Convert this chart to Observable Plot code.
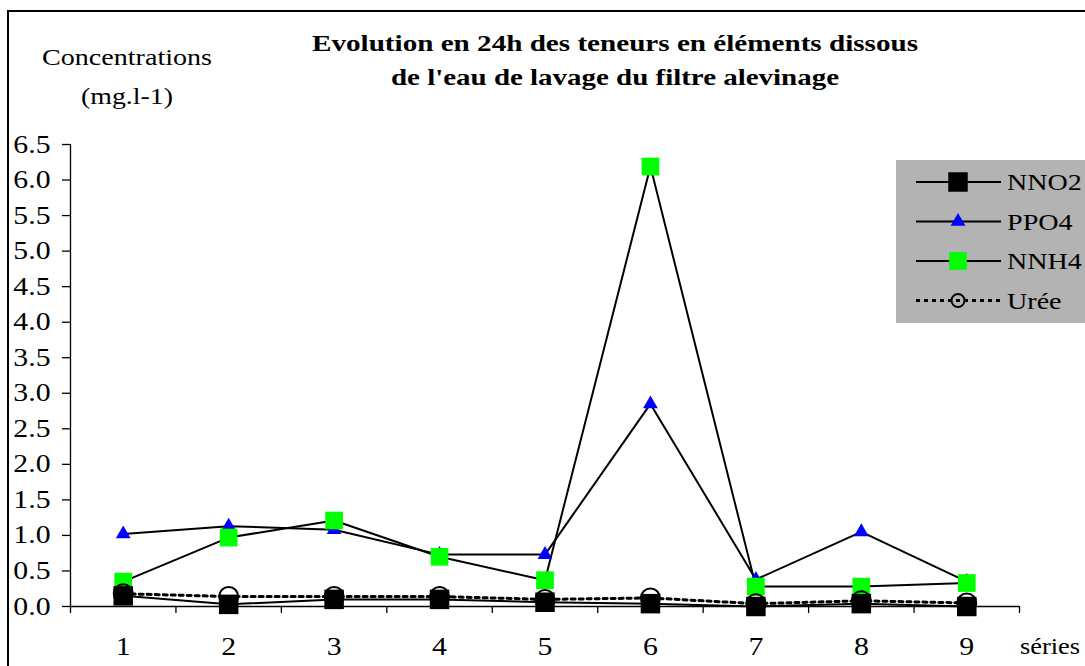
<!DOCTYPE html>
<html>
<head>
<meta charset="utf-8">
<script src="https://cdn.jsdelivr.net/npm/d3@7"></script>
<script src="https://cdn.jsdelivr.net/npm/@observablehq/plot@0.6"></script>
<style>
  html, body { margin: 0; padding: 0; background: white; }
  #chart { width: 1085px; height: 666px; overflow: hidden; }
  #chart svg, #chart svg text { font-family: 'Liberation Serif' !important; }
</style>
</head>
<body>
<div id="chart"></div>
<script>
// ---- data ----
const series = [1, 2, 3, 4, 5, 6, 7, 8, 9];
const nno2 = [0.15, 0.03, 0.10, 0.10, 0.06, 0.04, 0.00, 0.04, 0.00];
const ppo4 = [1.02, 1.13, 1.08, 0.73, 0.73, 2.85, 0.38, 1.05, 0.35];
const nnh4 = [0.35, 0.97, 1.21, 0.70, 0.37, 6.19, 0.28, 0.28, 0.33];
const uree = [0.18, 0.14, 0.14, 0.14, 0.10, 0.12, 0.04, 0.08, 0.05];
const yTicks = [0, 0.5, 1, 1.5, 2, 2.5, 3, 3.5, 4, 4.5, 5, 5.5, 6, 6.5];
const xBounds = [0.5, 1.5, 2.5, 3.5, 4.5, 5.5, 6.5, 7.5, 8.5, 9.5];
const seriesNames = ["NNO2", "PPO4", "NNH4", "Urée"];
const titleLines = ["Evolution en 24h des teneurs en éléments dissous", "de l'eau de lavage du filtre alevinage"];
const yLabelLines = ["Concentrations", "(mg.l-1)"];
const xLabel = "séries";

const rows = (vals) => series.map((s, i) => ({s, v: vals[i]}));
const dNNO2 = rows(nno2), dPPO4 = rows(ppo4), dNNH4 = rows(nnh4), dUree = rows(uree);

const FONT = "'Liberation Serif'";
const STRETCH = 1.19;

const plot = Plot.plot({
  width: 1085,
  height: 666,
  marginLeft: 70,
  marginRight: 66,
  marginTop: 144,
  marginBottom: 60,
  style: {fontFamily: FONT, fontSize: "25px", background: "white", color: "black", overflow: "visible"},
  x: {type: "linear", domain: [0.5, 9.5]},
  y: {domain: [0, 6.5]},
  marks: [
    Plot.axisY({ticks: yTicks, tickFormat: d => d.toFixed(1), tickSize: 8, tickPadding: 12, label: null, fontSize: 25, strokeWidth: 1.3}),
    Plot.ruleX([0.5], {y1: 0, y2: 6.5, strokeWidth: 1.3}),
    Plot.ruleY([0], {strokeWidth: 1.3}),
    Plot.axisX({ticks: xBounds, tickSize: 7, tickFormat: () => "", label: null, strokeWidth: 1.3}),
    Plot.axisX({ticks: series, tickSize: 0, tickPadding: 31, label: null, fontSize: 25}),
    Plot.line(dPPO4, {x: "s", y: "v", stroke: "black", strokeWidth: 2}),
    Plot.line(dNNH4, {x: "s", y: "v", stroke: "black", strokeWidth: 2}),
    Plot.line(dNNO2, {x: "s", y: "v", stroke: "black", strokeWidth: 2}),
    Plot.line(dUree, {x: "s", y: "v", stroke: "black", strokeWidth: 3, strokeDasharray: "4,4"}),
    Plot.dot(dPPO4, {x: "s", y: "v", symbol: "triangle", r: 5.5, fill: "#0000ff", stroke: "none"}),
    Plot.dot(dNNH4, {x: "s", y: "v", symbol: "square", r: 10, fill: "#00ff00", stroke: "none"}),
    Plot.dot(dUree, {x: "s", y: "v", symbol: "circle", r: 9.5, fill: "none", stroke: "black", strokeWidth: 2}),
    Plot.dot(dNNO2, {x: "s", y: "v", symbol: "square", r: 11, fill: "black", stroke: "none"})
  ]
});

document.getElementById("chart").appendChild(plot);

const svg = d3.select(plot);

// horizontally stretch tick labels like the reference rendering
function stretch(sel, k) {
  sel.each(function () {
    const w = this.getComputedTextLength();
    if (w > 0) {
      this.setAttribute("textLength", (w * k).toFixed(1));
      this.setAttribute("lengthAdjust", "spacingAndGlyphs");
    }
  });
}
stretch(svg.selectAll("g[aria-label='y-axis tick label'] text, g[aria-label='x-axis tick label'] text"), STRETCH);

// outer frame
svg.insert("rect", ":first-child")
  .attr("x", 8).attr("y", 11).attr("width", 1100).attr("height", 700)
  .attr("fill", "white").attr("stroke", "black").attr("stroke-width", 2);

// title
const titleWidths = [606, 448];
svg.append("g").selectAll("text").data(titleLines).join("text")
  .attr("x", 615).attr("y", (d, i) => 51 + i * 34)
  .attr("text-anchor", "middle")
  .style("font-family", FONT).attr("font-weight", "bold").attr("font-size", 24)
  .attr("textLength", (d, i) => titleWidths[i]).attr("lengthAdjust", "spacingAndGlyphs")
  .text(d => d);

// y label
const yLabWidths = [170, 92];
svg.append("g").selectAll("text").data(yLabelLines).join("text")
  .attr("x", 127).attr("y", (d, i) => 65 + i * 39)
  .attr("text-anchor", "middle")
  .style("font-family", FONT).attr("font-size", 24)
  .attr("textLength", (d, i) => yLabWidths[i]).attr("lengthAdjust", "spacingAndGlyphs")
  .text(d => d);

// x label
const xl = svg.append("text")
  .attr("x", 1020).attr("y", 654).attr("text-anchor", "start")
  .style("font-family", FONT).attr("font-size", 24)
  .text(xLabel);
stretch(xl, 1.1);

// legend
const lg = svg.append("g");
lg.append("rect").attr("x", 896).attr("y", 160).attr("width", 200).attr("height", 163).attr("fill", "#b3b3b3");
const legendStyles = [
  {sym: d3.symbolSquare, r: 11, fill: "black", stroke: "none", dash: null, w: 2},
  {sym: d3.symbolTriangle, r: 5.5, fill: "#0000ff", stroke: "none", dash: null, w: 2},
  {sym: d3.symbolSquare, r: 10, fill: "#00ff00", stroke: "none", dash: null, w: 2},
  {sym: d3.symbolCircle, r: 6.5, fill: "none", stroke: "black", dash: "4,4", w: 3}
];
seriesNames.forEach((name, i) => {
  const y = 182 + i * 39.5;
  const st = legendStyles[i];
  lg.append("line").attr("x1", 916).attr("x2", 1001).attr("y1", y).attr("y2", y)
    .attr("stroke", "black").attr("stroke-width", st.w).attr("stroke-dasharray", st.dash);
  lg.append("path").attr("transform", `translate(958,${y})`)
    .attr("d", d3.symbol(st.sym, Math.PI * st.r * st.r)())
    .attr("fill", st.fill).attr("stroke", st.stroke === "none" ? null : st.stroke)
    .attr("stroke-width", 2);
  const t = lg.append("text").attr("x", 1007).attr("y", y + 8).attr("text-anchor", "start")
    .style("font-family", FONT).attr("font-size", 24)
    .text(name);
  stretch(t, 1.17);
});
</script>
</body>
</html>
